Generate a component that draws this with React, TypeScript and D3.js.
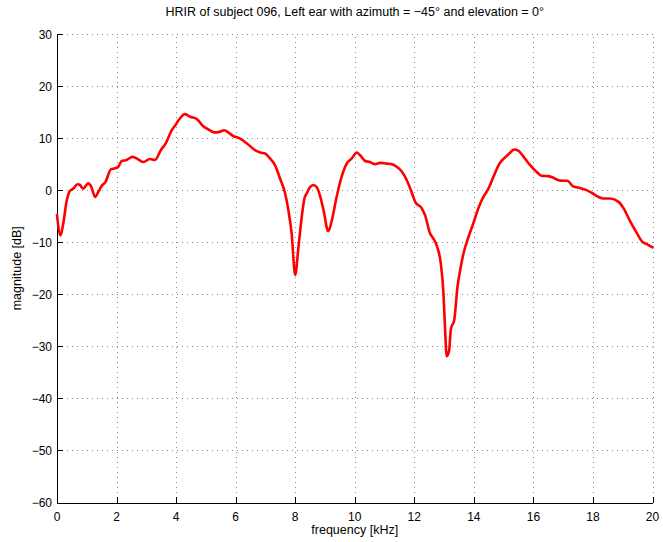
import React from "react";
import * as d3 from "d3";

const freqKHz = [0, 0.12, 0.21, 0.33, 0.44, 0.55, 0.69, 0.77, 0.88, 1.05, 1.14, 1.28, 1.39, 1.5, 1.63, 1.81, 1.95, 2.06, 2.17, 2.34, 2.53, 2.73, 2.9, 3.12, 3.29, 3.49, 3.65, 3.85, 3.99, 4.13, 4.3, 4.47, 4.69, 4.91, 5.08, 5.28, 5.42, 5.62, 5.75, 5.92, 6.15, 6.37, 6.65, 6.85, 6.99, 7.15, 7.32, 7.49, 7.66, 7.77, 7.88, 8.0, 8.11, 8.22, 8.31, 8.39, 8.5, 8.61, 8.72, 8.83, 8.95, 9.11, 9.23, 9.39, 9.56, 9.73, 9.9, 10.07, 10.18, 10.35, 10.51, 10.68, 10.85, 11.07, 11.24, 11.41, 11.58, 11.75, 11.91, 12.03, 12.25, 12.36, 12.53, 12.64, 12.77, 12.89, 12.98, 13.03, 13.09, 13.17, 13.23, 13.34, 13.45, 13.54, 13.65, 13.82, 13.98, 14.15, 14.32, 14.49, 14.66, 14.86, 15.05, 15.22, 15.35, 15.5, 15.66, 15.89, 16.11, 16.28, 16.5, 16.67, 16.84, 17.0, 17.14, 17.32, 17.5, 17.74, 17.96, 18.18, 18.35, 18.58, 18.86, 19.03, 19.26, 19.48, 19.65, 19.82, 20.0];
const magnitudeDb = [-4.8, -8.7, -6.4, -1.9, -0.1, 0.3, 1.15, 1.0, 0.3, 1.3, 0.8, -1.3, -0.3, 0.8, 1.6, 4.0, 4.2, 4.5, 5.6, 5.8, 6.4, 5.9, 5.4, 6.0, 5.8, 7.7, 9.0, 11.5, 12.6, 13.8, 14.6, 14.1, 13.7, 12.3, 11.7, 11.1, 11.15, 11.5, 11.1, 10.4, 9.9, 9.0, 7.7, 7.2, 7.05, 6.1, 4.8, 2.25, -0.6, -3.8, -8.3, -16.3, -10.9, -5.1, -1.6, -0.6, 0.6, 1.0, 0.6, -1.0, -3.8, -7.9, -5.8, -1.3, 2.6, 5.1, 6.1, 7.25, 6.7, 5.6, 5.4, 5.0, 5.25, 5.1, 5.0, 4.5, 3.6, 1.9, -0.4, -2.25, -3.5, -4.8, -8.3, -9.3, -10.9, -14.1, -19.9, -26.3, -31.9, -30.8, -26.6, -25.0, -18.6, -15.4, -12.2, -9.0, -6.4, -3.5, -1.3, 0.3, 2.6, 5.1, 6.3, 7.2, 7.8, 7.55, 6.5, 4.8, 3.5, 2.75, 2.7, 2.4, 1.9, 1.8, 1.8, 0.8, 0.5, 0.1, -0.5, -1.3, -1.6, -1.6, -2.25, -3.5, -6.1, -8.3, -9.9, -10.4, -11.0];

const xTicks = [0, 2, 4, 6, 8, 10, 12, 14, 16, 18, 20];
const yTicks = [-60, -50, -40, -30, -20, -10, 0, 10, 20, 30];

const title = "HRIR of subject 096, Left ear with azimuth = \u221245\u00b0 and elevation = 0\u00b0";
const xLabel = "frequency [kHz]";
const yLabel = "magnitude [dB]";

const W = 663;
const H = 542;
const margin = { left: 57, right: 10.5, top: 34, bottom: 39.5 };

const fmt = (t: number) => (t < 0 ? "\u2212" + Math.abs(t) : String(t));

export default function App() {
  const x = d3.scaleLinear().domain([0, 20]).range([margin.left, W - margin.right]);
  const y = d3.scaleLinear().domain([-60, 30]).range([H - margin.bottom, margin.top]);
  const pts = freqKHz.map((f, i) => [f, magnitudeDb[i]] as [number, number]);
  const line = d3
    .line<[number, number]>()
    .x((d) => x(d[0]))
    .y((d) => y(d[1]))
    .curve(d3.curveMonotoneX);
  const font = "'Liberation Sans', Arial, Helvetica, sans-serif";
  const x0 = x(0), x1 = x(20), y0 = y(-60), y1 = y(30);
  return (
    <svg width={W} height={H} style={{ position: "absolute", left: 0, top: 0, background: "#fff" }} fontFamily={font}>
      <rect x={0} y={0} width={W} height={H} fill="#fff" />
      {/* grid */}
      <g stroke="#8c8c8c" strokeWidth={1} strokeDasharray="1,4" shapeRendering="crispEdges">
        {xTicks.filter((t) => t !== 0).map((t) => (
          <line key={"gx" + t} x1={Math.round(x(t)) + 0.5} x2={Math.round(x(t)) + 0.5} y1={y0} y2={y1} />
        ))}
        {yTicks.filter((t) => t !== -60).map((t) => (
          <line key={"gy" + t} x1={x0} x2={x1} y1={Math.round(y(t)) + 0.5} y2={Math.round(y(t)) + 0.5} />
        ))}
      </g>
      {/* axes */}
      <g stroke="#000" strokeWidth={1} shapeRendering="crispEdges">
        <line x1={Math.round(x0) + 0.5} x2={Math.round(x0) + 0.5} y1={y1} y2={y0} />
        <line x1={x0} x2={x1} y1={Math.round(y0) + 0.5} y2={Math.round(y0) + 0.5} />
        {xTicks.map((t) => (
          <line key={"tx" + t} x1={Math.round(x(t)) + 0.5} x2={Math.round(x(t)) + 0.5} y1={y0} y2={y0 - 6} />
        ))}
        {yTicks.map((t) => (
          <line key={"ty" + t} x1={x0} x2={x0 + 6} y1={Math.round(y(t)) + 0.5} y2={Math.round(y(t)) + 0.5} />
        ))}
      </g>
      {/* data */}
      <path d={line(pts) ?? ""} fill="none" stroke="#ff0000" strokeWidth={2.6} strokeLinejoin="round" strokeLinecap="round" />
      {/* tick labels */}
      <g fontSize={12} fill="#000">
        {xTicks.map((t) => (
          <text key={"lx" + t} x={x(t)} y={y0 + 18} textAnchor="middle">{fmt(t)}</text>
        ))}
        {yTicks.map((t) => (
          <text key={"ly" + t} x={x0 - 5} y={y(t) + 4.5} textAnchor="end">{fmt(t)}</text>
        ))}
      </g>
      <text x={(x0 + x1) / 2} y={534} textAnchor="middle" fontSize={12.5}>{xLabel}</text>
      <text transform={`translate(21,${(y0 + y1) / 2}) rotate(-90)`} textAnchor="middle" fontSize={12.5}>{yLabel}</text>
      <text x={(x0 + x1) / 2} y={16} textAnchor="middle" fontSize={12.5}>{title}</text>
    </svg>
  );
}
